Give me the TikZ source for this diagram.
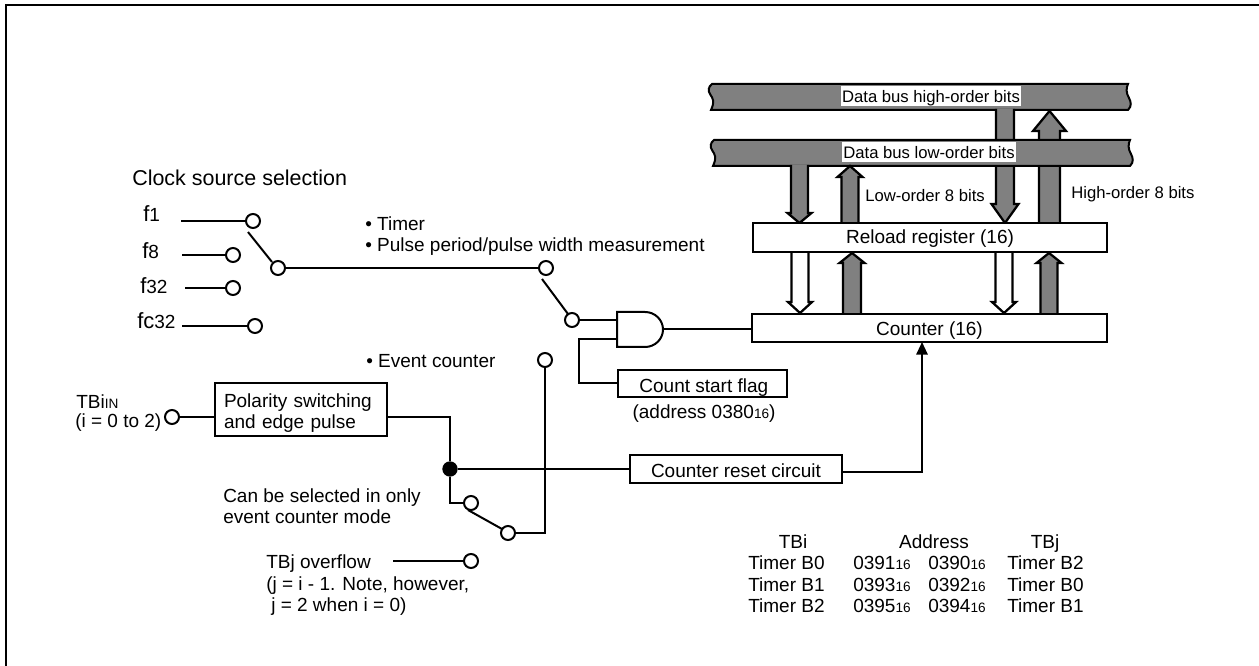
\documentclass[tikz,border=0pt]{standalone}
\usepackage{fontspec}
\setmainfont{Liberation Sans}
\usetikzlibrary{calc,arrows.meta}
\newcommand\subt[1]{{\fontsize{10.2pt}{12pt}\selectfont #1}}
\newcommand\fmain[1]{{\fontsize{16.5pt}{18pt}\selectfont #1}}
\newcommand\blockarrow[6]{%
  \fill[fill=#1] ($(#2)+(-#4,0)$) -- ($(#3)+(-#4,#6)$) -- ($(#3)+(-#5,#6)$) -- (#3) -- ($(#3)+(#5,#6)$) -- ($(#3)+(#4,#6)$) -- ($(#2)+(#4,0)$) -- cycle;
  \draw[blockline] ($(#2)+(-#4,0)$) -- ($(#3)+(-#4,#6)$) -- ($(#3)+(-#5,#6)$) -- (#3) -- ($(#3)+(#5,#6)$) -- ($(#3)+(#4,#6)$) -- ($(#2)+(#4,0)$);
}
\newcommand\busshape[1]{%
  \draw[wire,fill=busgrey,shift={(#1)}] (712,84) .. controls (708,87) and (708,91) .. (710,94) .. controls (713,99) and (715,101) .. (711,110) -- (1128,110) .. controls (1132,106) and (1131,102) .. (1129,98) .. controls (1126,93) and (1126,88) .. (1128,84) -- cycle;
}
\definecolor{busgrey}{gray}{0.5}
\tikzset{
  x=0.75pt,y=-0.75pt,
  wire/.style={draw=black,line width=1.5pt,line cap=butt,line join=miter},
  blockline/.style={draw=black,line width=1.7pt,line cap=butt,line join=miter,miter limit=6},
  term/.style={circle,wire,fill=white,minimum size=10.5pt,inner sep=0pt},
  jdot/.style={circle,fill=black,minimum size=11.5pt,inner sep=0pt},
  tx/.style={inner sep=0pt,font=\fontsize{14.25pt}{15.5pt}\selectfont},
  sm/.style={inner sep=0pt,font=\fontsize{12.5pt}{14pt}\selectfont},
  boxn/.style={rectangle,wire,fill=white,inner sep=0pt,font=\fontsize{14.25pt}{15.75pt}\selectfont},
  buslabel/.style={rectangle,fill=white,inner sep=0pt,font=\fontsize{12.5pt}{14pt}\selectfont,minimum height=15pt,text height=11pt,text depth=0.5pt},
}
\begin{document}
\begin{tikzpicture}
\useasboundingbox (0,0) rectangle (1259,666);
% frame
\coordinate (ftop) at (1259,5);
\coordinate (fcorner) at (6,5);
\coordinate (fbot) at (6,666);
\draw[line width=2pt,line join=miter] (ftop) -- (fcorner) -- (fbot);

% data buses and block arrows
\busshape{0,0}
\node[buslabel,minimum width=135pt] (hbus) at (931,96) {Data bus high-order bits};
\coordinate (hdfrom) at (1005,109);
\coordinate (hdto) at (1005,223);
\coordinate (hufrom) at (1049.5,224);
\coordinate (huto) at (1049.5,111);
\blockarrow{busgrey}{hdfrom}{hdto}{9}{13.5}{-19}
\blockarrow{busgrey}{hufrom}{huto}{10.5}{16.5}{20}
\busshape{2,56}
\node[buslabel,minimum width=130.5pt] (lbus) at (929,152) {Data bus low-order bits};
\coordinate (ldfrom) at (799.5,165);
\coordinate (ldto) at (799.5,223);
\coordinate (lufrom) at (850,224);
\coordinate (luto) at (850,166);
\blockarrow{busgrey}{ldfrom}{ldto}{8.5}{12}{-10}
\blockarrow{busgrey}{lufrom}{luto}{8.5}{12.5}{11}
\coordinate (wd1from) at (800,252);
\coordinate (wd1to) at (800,313);
\coordinate (wd2from) at (1004,252);
\coordinate (wd2to) at (1004,313);
\coordinate (gu1from) at (852,315);
\coordinate (gu1to) at (852,253);
\coordinate (gu2from) at (1049,315);
\coordinate (gu2to) at (1049,253);
\blockarrow{white}{wd1from}{wd1to}{8.5}{12}{-11}
\blockarrow{white}{wd2from}{wd2to}{8.5}{12}{-11}
\blockarrow{busgrey}{gu1from}{gu1to}{9}{12.5}{10}
\blockarrow{busgrey}{gu2from}{gu2to}{8.5}{12.5}{10}

% boxes
\node[boxn,minimum width=265.5pt,minimum height=21.75pt,text height=11pt,text depth=1.25pt] (reload) at (930,237.5) {Reload register (16)};
\node[boxn,minimum width=266.25pt,minimum height=21pt,text height=11.5pt,text depth=1pt] (counter) at (929.5,328) {Counter (16)};
\node[boxn,minimum width=126.75pt,minimum height=20.25pt,text height=14pt,text depth=0.5pt] (flag) at (702.5,383) {\hspace*{2pt}Count start flag};
\node[boxn,minimum width=159pt,minimum height=21pt,text height=12.5pt,text depth=0.5pt] (reset) at (736,469) {Counter reset circuit};
\node[boxn,text width=115.5pt,inner xsep=6.75pt,minimum height=39.75pt,align=left] (pol) at (301,409.5) {\rule{0pt}{15pt}Polarity switching\\and edge pulse};

% terminals
\node[term] (c1) at (253,221) {};
\node[term] (c8) at (233,255) {};
\node[term] (c32) at (233,288) {};
\node[term] (cc32) at (255,326) {};
\node[term] (csel) at (278,268) {};
\node[term] (ct) at (546,268) {};
\node[term] (cand) at (572,320) {};
\node[term] (cev) at (545,360) {};
\node[term] (cin) at (172,417) {};
\node[term] (cm) at (471,503) {};
\node[term] (cb) at (508,533) {};
\node[term] (covf) at (471,561) {};
\node[jdot] (dot) at (450,469) {};

% stubs
\coordinate (s1) at (181,221);
\coordinate (s8) at (182,255);
\coordinate (s32) at (185,288);
\coordinate (sc32) at (182,326);
\coordinate (sovf) at (393,561);
\coordinate (arm1) at (248,232);
\coordinate (arm1b) at (272,262);
\coordinate (arm2) at (542,279);
\coordinate (arm2b) at (568,314);
\coordinate (arm3) at (468,510);
\coordinate (arm3b) at (502,529);
\draw[wire] (s1) -- (c1);
\draw[wire] (s8) -- (c8);
\draw[wire] (s32) -- (c32);
\draw[wire] (sc32) -- (cc32);
\draw[wire] (sovf) -- (covf);
\draw[wire] (arm1) -- (arm1b);
\draw[wire] (arm2) -- (arm2b);
\draw[wire] (arm3) -- (arm3b);
\draw[wire] (csel) -- (ct);

% AND gate
\coordinate (andtl) at (617,312);
\coordinate (andbl) at (617,347);
\coordinate (andin1) at (617,320);
\coordinate (andin2) at (617,339);
\coordinate (andout) at (663,329.5);
\draw[wire,fill=white] (andbl) -- (andtl) -- (645,312) arc[start angle=-90,end angle=90,x radius=18,y radius=17.5] -- cycle;
\draw[wire] (cand) -- (andin1);
\draw[wire] (andin2) -- (579,339) |- (flag.west);
\draw[wire] (andout) -- (andout -| counter.west);

% event path
\draw[wire] (cin) -- (pol.west |- cin);
\coordinate (polout) at (387,417);
\draw[wire] (polout) -| (dot);
\draw[wire] (dot) -- (reset.west);
\draw[wire] (dot) |- (cm);
\draw[wire] (cb) -| (cev);
\coordinate (rstout) at (842,472);
\coordinate (rsttip) at (922,342);
\draw[wire,-{Triangle[length=9.5pt,width=8.5pt]}] (rstout) -| (rsttip);

% texts
\node[anchor=base west,inner sep=0pt,font=\fontsize{16.1pt}{18pt}\selectfont] (tclk) at (132,186) {Clock source selection};
\node[tx,anchor=base west] (tf1) at (143,222) {\fmain{f}1};
\node[tx,anchor=base west] (tf8) at (142,259) {\fmain{f}8};
\node[tx,anchor=base west] (tf32) at (140,294) {\fmain{f}32};
\node[tx,anchor=base west] (tfc) at (137,329) {\fmain{fc}32};
\node[tx,anchor=base west] (tt) at (365,231) {• Timer};
\node[tx,anchor=base west] (tp) at (365,252) {• Pulse period/pulse width measurement};
\node[tx,anchor=base west] (te) at (366,368) {• Event counter};
\node[tx,anchor=base west] (ttb) at (76,408) {TBi\subt{IN}};
\node[tx,anchor=base west] (ti) at (75,427) {(i = 0 to 2)};
\node[tx,anchor=base west] (tc1) at (223,502) {Can be selected in only};
\node[tx,anchor=base west] (tc2) at (223,523) {event counter mode};
\node[tx,anchor=base west] (to1) at (266,568) {TBj overflow};
\node[tx,anchor=base west] (to2) at (266,590) {(j = i - 1. Note, however,};
\node[tx,anchor=base west] (to3) at (271,611) {j = 2 when i = 0)};
\node[tx,anchor=base] (tad) at (704,418) {(address 0380\subt{16})};
\node[sm,anchor=base west] (tlo) at (865,202) {Low-order 8 bits};
\node[sm,anchor=base west] (thi) at (1071,199) {High-order 8 bits};
% table
\node[tx,anchor=base] (h1) at (793,548) {TBi};
\node[tx,anchor=base] (h2) at (934,548) {Address};
\node[tx,anchor=base] (h3) at (1045,548) {TBj};
\node[tx,anchor=base west] (a1) at (748,569) {Timer B0};
\node[tx,anchor=base west] (a2) at (853,569) {0391\subt{16}};
\node[tx,anchor=base west] (a3) at (928,569) {0390\subt{16}};
\node[tx,anchor=base west] (a4) at (1007,569) {Timer B2};
\node[tx,anchor=base west] (b1) at (748,591) {Timer B1};
\node[tx,anchor=base west] (b2) at (853,591) {0393\subt{16}};
\node[tx,anchor=base west] (b3) at (928,591) {0392\subt{16}};
\node[tx,anchor=base west] (b4) at (1007,591) {Timer B0};
\node[tx,anchor=base west] (d1) at (748,612) {Timer B2};
\node[tx,anchor=base west] (d2) at (853,612) {0395\subt{16}};
\node[tx,anchor=base west] (d3) at (928,612) {0394\subt{16}};
\node[tx,anchor=base west] (d4) at (1007,612) {Timer B1};
\end{tikzpicture}
\end{document}
